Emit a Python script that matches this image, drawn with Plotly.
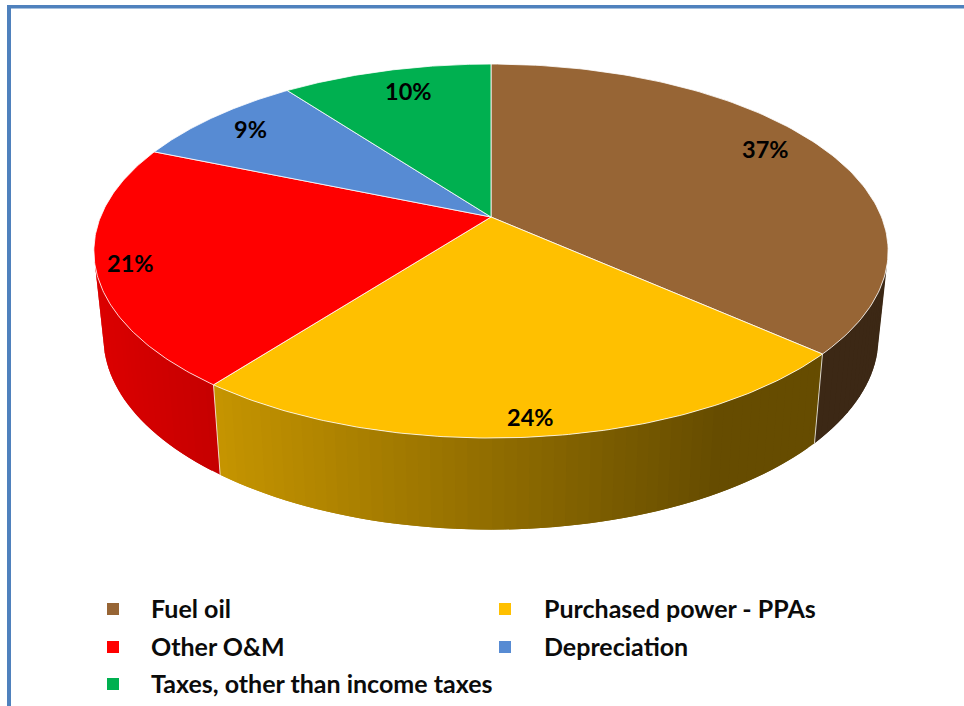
import numpy as np
import plotly.graph_objects as go

# Data
categories = ["Fuel oil", "Purchased power - PPAs", "Other O&M", "Depreciation", "Taxes, other than income taxes"]
shares = [36.6, 23.8, 20.9, 8.5, 10.2]
percent_labels = ["37%", "24%", "21%", "9%", "10%"]
top_colors = ["#976535", "#FFC000", "#FF0000", "#578BD3", "#00B050"]

# Projection of the tilted disc into the page (axis units = pixels)
CX, CY = 491.0, 217.0
AX, AY, K = 390.5, 180.8, 0.182
SIDE_SX, SIDE_SY, SIDE_CY = 0.976, 1.03, 302.0
SHADE_LEFT_X, SHADE_LEFT, SHADE_RIGHT_X, SHADE_RIGHT = 100.0, 0.86, 720.0, 0.40


def top_pt(t, r=1.0):
    w = 1 + K * r * np.cos(t)
    return CX + AX * r * np.sin(t) / w, CY - AY * r * np.cos(t) / w


def bottom_pt(t):
    x, y = top_pt(t)
    return CX + SIDE_SX * (x - CX), SIDE_CY + SIDE_SY * (y - CY)


def shade(rgb, x):
    f = np.interp(x, [SHADE_LEFT_X, SHADE_RIGHT_X], [SHADE_LEFT, SHADE_RIGHT])
    return "rgb(%d,%d,%d)" % tuple(int(c * f) for c in rgb)


def to_rgb(h):
    return tuple(int(h[i:i + 2], 16) for i in (1, 3, 5))


fig = go.Figure()
edges = 2 * np.pi * np.cumsum([0] + shares) / sum(shares)
STEP = np.radians(1.5)
visible_from, visible_to = np.radians(105), np.radians(255)

# Side wall: thin shaded quads, each overlapping the next so no seams show
for i, color in enumerate(top_colors):
    a, b = max(edges[i], visible_from), min(edges[i + 1], visible_to)
    if a >= b:
        continue
    n = max(1, int((b - a) / STEP))
    ts = np.linspace(a, b, n + 1)
    rgb = to_rgb(color)
    for j in range(n):
        t0, t1 = ts[j], ts[min(j + 2, n)]
        tt = np.array([t0, t1])
        xt, yt = top_pt(tt)
        xb, yb = bottom_pt(tt)
        c = shade(rgb, (top_pt(ts[j])[0] + top_pt(ts[j + 1])[0]) / 2)
        fig.add_trace(go.Scatter(x=[xt[0], xt[1], xb[1], xb[0], xt[0]], y=[yt[0], yt[1], yb[1], yb[0], yt[0]],
                                 mode="lines", fill="toself", fillcolor=c, line=dict(color=c, width=0),
                                 hoverinfo="skip", showlegend=False))

# White seams where slices meet on the wall
for e in edges[1:3]:
    x0, y0 = top_pt(e)
    x1, y1 = bottom_pt(e)
    fig.add_trace(go.Scatter(x=[x0, x1], y=[y0, y1], mode="lines",
                             line=dict(color="rgba(255,255,255,0.75)", width=1),
                             hoverinfo="skip", showlegend=False))

# Top face slices
for i, color in enumerate(top_colors):
    ts = np.linspace(edges[i], edges[i + 1], 120)
    xs, ys = top_pt(ts)
    fig.add_trace(go.Scatter(x=np.r_[CX, xs, CX], y=np.r_[CY, ys, CY], mode="lines",
                             fill="toself", fillcolor=color,
                             line=dict(color="rgba(255,255,255,0.8)", width=1),
                             name=categories[i], hoverinfo="name", showlegend=False))

# Legend squares
legend_x = [113, 505, 113, 505, 113]
legend_y = [609, 609, 647, 647, 684]
legend_text_x = [149, 542, 149, 542, 149]
legend_text_y = [608, 608, 646, 646, 683]
fig.add_trace(go.Scatter(x=legend_x, y=legend_y, mode="markers",
                         marker=dict(symbol="square", size=12, color=top_colors),
                         hoverinfo="skip", showlegend=False))

FONT = "Lato"
annotations = []
for name, x, y in zip(categories, legend_text_x, legend_text_y):
    annotations.append(dict(x=x, y=y, text=f"<b>{name}</b>", showarrow=False, xanchor="left", yanchor="middle",
                            font=dict(family=FONT, size=25, color="#0b0b0b")))
label_x = [765, 530, 130, 250, 408]
label_y = [149, 417, 263, 129, 91]
for txt, x, y in zip(percent_labels, label_x, label_y):
    annotations.append(dict(x=x, y=y, text=f"<b>{txt}</b>", showarrow=False, xanchor="center", yanchor="middle",
                            font=dict(family=FONT, size=23.5, color="#000000")))

# Frame: left and top edges only
frame = "#4F81BD"
shapes = [
    dict(type="rect", xref="x", yref="y", x0=7, x1=11, y0=5, y1=706, fillcolor=frame, line_width=0),
    dict(type="rect", xref="x", yref="y", x0=7, x1=964, y0=5, y1=8.5, fillcolor=frame, line_width=0),
]

fig.update_layout(width=964, height=706, margin=dict(l=0, r=0, t=0, b=0),
                  paper_bgcolor="white", plot_bgcolor="white", showlegend=False,
                  annotations=annotations, shapes=shapes,
                  xaxis=dict(range=[0, 964], visible=False, fixedrange=True),
                  yaxis=dict(range=[706, 0], visible=False, fixedrange=True))
fig.write_html("out.html", config={"displayModeBar": False},
               post_script="document.body.style.margin='0';")
